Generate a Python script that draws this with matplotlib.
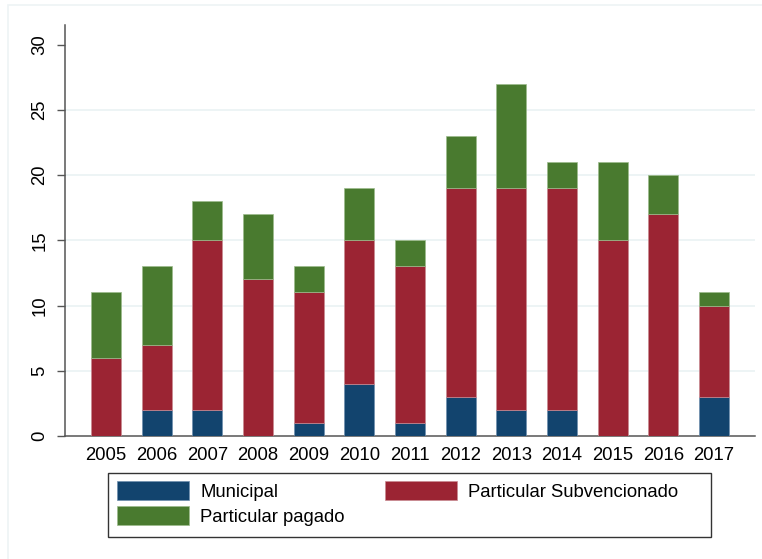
import numpy as np
import matplotlib
matplotlib.use("Agg")
import matplotlib.pyplot as plt
from matplotlib.patches import Rectangle

years = [2005, 2006, 2007, 2008, 2009, 2010, 2011, 2012, 2013, 2014, 2015, 2016, 2017]
municipal = [0, 2, 2, 0, 1, 4, 1, 3, 2, 2, 0, 0, 3]
subvencionado = [6, 5, 13, 12, 10, 11, 12, 16, 17, 17, 15, 17, 7]
pagado = [5, 6, 3, 5, 2, 4, 2, 4, 8, 2, 6, 3, 1]
yticks = [0, 5, 10, 15, 20, 25, 30]

c_mun = "#12446e"
c_sub = "#9b2433"
c_pag = "#497a2f"

plt.rcParams['font.family'] = ['Liberation Sans', 'DejaVu Sans']
W, H = 762, 559

fig = plt.figure(figsize=(7.62, 5.59), dpi=100)
# faint outer frame (Stata graph region)
fig.patches.append(Rectangle((8 / W, -0.01), 1.0, 1 - 5 / H + 0.01, transform=fig.transFigure,
                             fill=False, edgecolor="#eef3f5", linewidth=1.2))

ax = fig.add_axes([65 / W, 123 / H, 690 / W, 411 / H])

x = np.arange(len(years))
w = 0.59
mun = np.array(municipal)
sub = np.array(subvencionado)
pag = np.array(pagado)

ax.bar(x, mun, w, color=c_mun, edgecolor="#6f8fae", linewidth=0.5, label="Municipal", zorder=3)
ax.bar(x, sub, w, bottom=mun, color=c_sub, edgecolor="#c98a92", linewidth=0.5,
       label="Particular Subvencionado", zorder=3)
ax.bar(x, pag, w, bottom=mun + sub, color=c_pag, edgecolor="#9dbb8c", linewidth=0.5,
       label="Particular pagado", zorder=3)

ax.set_xlim(-0.81, len(years) - 1 + 0.81)
ax.set_ylim(0, 31.5)
ax.set_xticks(x)
ax.set_xticklabels([str(y) for y in years], fontsize=13.3)
ax.tick_params(axis="x", length=0, pad=8)
ax.set_yticks(yticks)
ax.set_yticklabels([str(t) for t in yticks], rotation=90, va="center", fontsize=13.3)
ax.tick_params(axis="y", length=6, width=1, color="#555555", pad=6)

for t in yticks[1:-1]:
    ax.axhline(t, color="#eaf2f3", linewidth=1.2, zorder=1)

for s in ["top", "right"]:
    ax.spines[s].set_visible(False)
ax.spines["left"].set_color("#555555")
ax.spines["bottom"].set_color("#555555")
ax.spines["left"].set_linewidth(1.1)
ax.spines["bottom"].set_linewidth(1.1)

# legend box drawn separately, entries placed inside
fig.patches.append(Rectangle((108 / W, 22 / H), 603 / W, 64 / H, transform=fig.transFigure,
                             fill=False, edgecolor="#333333", linewidth=1.0))
handles, labels = ax.get_legend_handles_labels()
order = [0, 2, 1]
leg = fig.legend([handles[i] for i in order], [labels[i] for i in order],
                 loc="upper left", bbox_to_anchor=(117 / W, 1 - 481 / H),
                 ncol=2, fontsize=13.3, frameon=False,
                 handlelength=3.9, handleheight=1.2, borderpad=0, labelspacing=0.3,
                 handletextpad=0.6, columnspacing=2.2, borderaxespad=0)

fig.savefig("out.png", dpi=100)
